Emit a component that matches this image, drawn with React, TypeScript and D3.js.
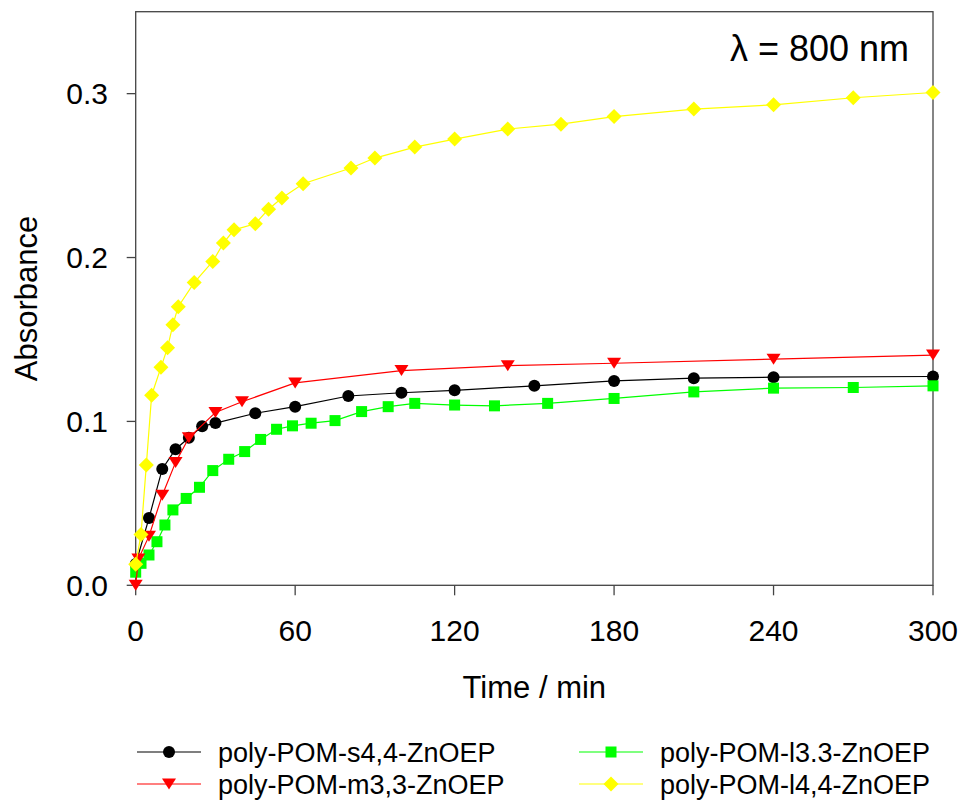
import React from "react";
import * as d3 from "d3";

const blackT = [0, 5, 10, 15, 20, 25, 30, 45, 60, 80, 100, 120, 150, 180, 210, 240, 300];
const blackV = [0.013, 0.041, 0.071, 0.083, 0.09, 0.097, 0.099, 0.105, 0.109, 0.1155, 0.1175, 0.119, 0.1217, 0.1247, 0.1264, 0.127, 0.1274];

const redT = [0, 1, 5, 10, 15, 20, 30, 40, 60, 100, 140, 180, 240, 300];
const redV = [0.0, 0.016, 0.03, 0.055, 0.075, 0.09, 0.1055, 0.112, 0.1235, 0.131, 0.134, 0.1355, 0.138, 0.1405];

const greenT = [0, 2, 5, 8, 11, 14, 19, 24, 29, 35, 41, 47, 53, 59, 66, 75, 85, 95, 105, 120, 135, 155, 180, 210, 240, 270, 300];
const greenV = [0.008, 0.0134, 0.0185, 0.0266, 0.0368, 0.046, 0.053, 0.0598, 0.07, 0.0769, 0.0816, 0.089, 0.0952, 0.0973, 0.0989, 0.1005, 0.106, 0.109, 0.111, 0.11, 0.1095, 0.111, 0.114, 0.118, 0.1203, 0.1207, 0.1217];

const yellowT = [0, 2, 4, 6, 9.5, 12, 14, 16, 22, 29, 33, 37, 45, 50, 55, 63, 81, 90, 105, 120, 140, 160, 180, 210, 240, 270, 300];
const yellowV = [0.0128, 0.031, 0.0734, 0.116, 0.133, 0.145, 0.159, 0.17, 0.1847, 0.1976, 0.2088, 0.2169, 0.2206, 0.2295, 0.2363, 0.245, 0.2546, 0.2607, 0.2674, 0.2723, 0.2784, 0.2814, 0.286, 0.2906, 0.2932, 0.2975, 0.3007];

const xTicks = [0, 60, 120, 180, 240, 300];
const yTicks = [0.0, 0.1, 0.2, 0.3];

const seriesNames = ["poly-POM-s4,4-ZnOEP", "poly-POM-m3,3-ZnOEP", "poly-POM-l3.3-ZnOEP", "poly-POM-l4,4-ZnOEP"];

const FONT = "'Liberation Sans', Arial, sans-serif";

type Shape = "circle" | "triangle" | "square" | "diamond";

function Marker({ x, y, shape, color }: { x: number; y: number; shape: Shape; color: string }) {
  if (shape === "circle") return <circle cx={x} cy={y} r={6} fill={color} />;
  if (shape === "square") return <rect x={x - 5.5} y={y - 5.5} width={11} height={11} fill={color} />;
  if (shape === "diamond")
    return <path d={`M${x},${y - 7.5}L${x + 7.5},${y}L${x},${y + 7.5}L${x - 7.5},${y}Z`} fill={color} />;
  return <path d={`M${x - 7},${y - 5.5}L${x + 7},${y - 5.5}L${x},${y + 5.5}Z`} fill={color} />;
}

export default function App() {
  const left = 135.7, right = 933, top = 11.7, bottom = 585.3;
  const x = d3.scaleLinear().domain([0, 300]).range([left, right]);
  const y = d3.scaleLinear().domain([0, 0.35]).range([bottom, top]);

  const series = [
    { t: blackT, v: blackV, color: "#000000", line: "#000000", shape: "circle" as Shape, name: seriesNames[0] },
    { t: greenT, v: greenV, color: "#00ff00", line: "#00ff00", shape: "square" as Shape, name: seriesNames[2] },
    { t: redT, v: redV, color: "#ff0000", line: "#ff0000", shape: "triangle" as Shape, name: seriesNames[1] },
    { t: yellowT, v: yellowV, color: "#ffff00", line: "#ffff00", shape: "diamond" as Shape, name: seriesNames[3] },
  ];

  const lineGen = d3
    .line<[number, number]>()
    .x((d) => x(d[0]))
    .y((d) => y(d[1]));

  const legend = [
    { s: series[0], lx: 137, ly: 752 },
    { s: series[2], lx: 137, ly: 784 },
    { s: series[1], lx: 579, ly: 752 },
    { s: series[3], lx: 579, ly: 784 },
  ];

  return (
    <svg
      width={962}
      height={803}
      style={{ position: "absolute", left: 0, top: 0, background: "#fff" }}
      fontFamily={FONT}
    >
      <rect x={0} y={0} width={962} height={803} fill="#fff" />
      <rect x={left} y={top} width={right - left} height={bottom - top} fill="none" stroke="#444" strokeWidth={1.3} />
      {yTicks.map((t) => (
        <g key={"y" + t}>
          <line x1={left - 9} x2={left} y1={y(t)} y2={y(t)} stroke="#444" strokeWidth={1.3} />
          <text x={108} y={y(t)} dy="0.36em" textAnchor="end" fontSize={30} fill="#000">
            {d3.format(".1f")(t)}
          </text>
        </g>
      ))}
      {xTicks.map((t) => (
        <g key={"x" + t}>
          <line x1={x(t)} x2={x(t)} y1={bottom} y2={bottom + 10} stroke="#444" strokeWidth={1.3} />
          <text x={x(t)} y={641} textAnchor="middle" fontSize={30} fill="#000">
            {t}
          </text>
        </g>
      ))}
      <text x={(left + right) / 2} y={698} textAnchor="middle" fontSize={31} fill="#000">
        Time / min
      </text>
      <text
        transform={`translate(37, ${(top + bottom) / 2}) rotate(-90)`}
        textAnchor="middle"
        fontSize={31}
        fill="#000"
      >
        Absorbance
      </text>
      <text x={909} y={61} textAnchor="end" fontSize={36} fill="#000">
        λ = 800 nm
      </text>
      {series.map((s, i) => {
        const pts: [number, number][] = s.t.map((t, j) => [t, s.v[j]]);
        return (
          <g key={"s" + i}>
            <path d={lineGen(pts) || ""} fill="none" stroke={s.line} strokeWidth={1.2} />
            {pts.map((p, j) => (
              <Marker key={j} x={x(p[0])} y={y(p[1])} shape={s.shape} color={s.color} />
            ))}
          </g>
        );
      })}
      {legend.map((l, i) => (
        <g key={"l" + i}>
          <line x1={l.lx} x2={l.lx + 64} y1={l.ly} y2={l.ly} stroke={l.s.line} strokeWidth={1.2} />
          <Marker x={l.lx + 32} y={l.ly} shape={l.s.shape} color={l.s.color} />
          <text x={l.lx + 81} y={l.ly} dy="0.36em" fontSize={27} fill="#000">
            {l.s.name}
          </text>
        </g>
      ))}
    </svg>
  );
}
